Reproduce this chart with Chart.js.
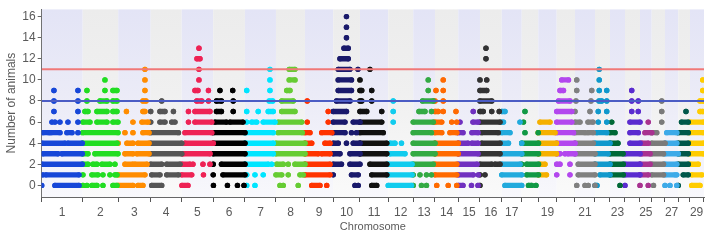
<!DOCTYPE html>
<html>
<head>
<meta charset="utf-8">
<script src="https://cdn.jsdelivr.net/npm/chart.js@4.4.1/dist/chart.umd.min.js"></script>
<style>
  html, body { margin: 0; padding: 0; background: #fff; }
  #wrap { width: 709px; height: 244px; }
</style>
</head>
<body>
<div id="wrap"><canvas id="chart" width="709" height="244"></canvas></div>
<script>
// chromosome lengths (Mb)
const chrLen = [164, 142, 130, 124, 126, 127, 124, 116, 113, 107, 113, 100, 87, 93, 87,
  87, 80, 66, 74, 73, 80, 60, 60, 60, 47, 53, 53, 47, 53];
const xTickLabels = ["1", "2", "3", "4", "5", "6", "7", "8", "9", "10", "11", "12", "13", "14", "15",
  "16", "17", "", "19", "", "21", "", "23", "", "25", "", "27", "", "29"];
const chrColors = ["#1747d8", "#22dd22", "#ff8c00", "#555555", "#ee2255", "#000000", "#00e5ff",
  "#66cc33", "#ff3300", "#1a1a6b", "#111111", "#11ccee", "#33aa44", "#ff6a00", "#7030c0",
  "#333333", "#22aadd", "#119944", "#f5b000", "#b347ee", "#808080", "#1199cc", "#006837",
  "#5b2ccf", "#a83290", "#7a7a7a", "#3daae8", "#00584a", "#ffcc00"];
const thresholds = [11, 8];
const thresholdColors = ["#f07878", "#4b5cc4"];
const yTicks = [0, 1, 2, 3, 4, 5, 6, 7, 8, 9, 10, 11, 12, 13, 14, 15, 16];

// [animals, start] for a single marker, [animals, start, end] for a run of markers (Mb)
const chr1 = [[0,0],[0,53,149],[1,5],[1,17,149],[2,1,162],[3,5,65],[3,81,162],[4,1,93],[4,105,162],
  [5,5,29],[5,37,73],[5,101,121],[5,145],[6,41],[6,53],[6,73],[6,105],[6,145],
  [7,49],[7,145],[8,49],[8,145],[9,49],[9,145]];
const chr2 = [[0,1],[0,17],[0,37,57],[0,81],[0,121,137],[1,1],[1,37,61],[1,81],[1,109],[1,129,137],
  [2,1,21],[2,41,57],[2,77,109],[2,129],[3,1,21],[3,49,141],[4,0,137],[5,0,141],
  [6,1,29],[6,57,97],[6,121,141],[7,9,21],[7,57,97],[7,121,137],[8,17],[8,69,97],[8,121,137],
  [9,17],[9,89],[9,121,137],[10,89]];
const chr3 = [[0,0,59],[0,79,99],[1,0,107],[2,27,59],[2,67,115],[3,27,59],[3,75,123],
  [4,0],[4,35,59],[4,79,123],[5,27],[5,59],[5,99,123],[6,59],[6,95,119],[7,33],[7,99,107],
  [8,99,111],[9,107],[10,107],[11,107]];
const chr4 = [[0,4,44],[1,4,37],[1,64,111],[2,0,44],[2,64,117],[3,0,124],[4,0,124],[5,0,111],
  [6,0],[6,37,57],[6,84,97],[7,0],[7,37,57],[7,91],[8,44]];
const chr5 = [[0,1,25],[1,0,40],[1,87],[2,1,33],[2,45],[2,85],[2,113],[3,5,113],[4,13,126],[5,13,120],
  [6,27],[6,53,120],[7,27],[7,53,113],[8,60,80],[8,107],[9,53,65],[9,107],
  [10,69],[11,69],[12,61,73],[13,69]];
const chr6 = [[0,1],[0,57],[0,97],[0,123],[1,0],[1,39,127],[2,0],[2,33,127],[3,0,127],[4,0,127],[5,0,127],
  [6,7,53],[6,67,119],[7,13,33],[7,80],[8,13,33],[8,80],[9,27],[9,78]];
const chr7 = [[0,7],[0,40],[1,7],[1,40],[1,73],[2,0,93],[2,107],[3,7,113],[4,0,113],[5,0,113],
  [6,7],[6,27,47],[6,73,120],[7,7],[7,53],[7,93,113],[8,97,111],[9,7],[9,100],[10,100],[11,100]];
const chr8 = [[0,16],[0,29],[0,89],[1,0,23],[1,49],[1,96,109],[2,3,29],[2,49],[2,76,116],
  [3,0,116],[4,0,116],[5,9,105],[6,9,103],[7,23,76],[8,23,69],[9,43,56],[10,53,76],[11,53,76]];
const chr9 = [[0,27,60],[0,87],[1,0,100],[2,0,100],[3,0,53],[3,67,100],[4,0,27],[4,80,100],
  [5,0,20],[5,67,107],[6,9],[6,93],[7,93],[8,9]];
const chr10 = [[0,87],[0,100],[1,0],[1,73,100],[2,0,33],[2,67,107],[3,0,27],[3,67,107],
  [4,0,20],[4,53],[4,80,107],[5,0,47],[5,73],[5,93],[6,0,47],[6,80,107],[7,0,53],[8,13,67],
  [9,20,73],[10,20,73],[11,20,67],[11,99],[12,27,60],[13,43,60],[14,53],[15,53],[16,53]];
const chr11 = [[0,47,67],[1,47,107],[2,40,107],[3,0,107],[4,0,107],[5,0,93],[6,0,87],[7,0,27],[7,87],
  [8,0,7],[8,47],[9,0,7],[9,47],[10,0],[11,40]];
const chr12 = [[0,0,93],[1,0,95],[2,0,95],[3,7,67],[4,7,27],[4,53],[6,20],[7,20],[8,20]];
const chr13 = [[0,0],[0,33],[0,53],[1,0],[1,27],[1,53],[1,73],[2,0,80],[3,0,87],[4,0,87],[5,0,73],
  [6,0,80],[7,23,47],[7,73],[8,37,80],[9,60],[10,60]];
const chr14 = [[0,7],[0,53],[0,87],[1,0,87],[2,0,87],[3,0,93],[4,0,93],[5,0,27],[5,60,87],
  [6,0,27],[6,67],[6,87],[7,0,13],[7,33],[7,84],[8,0],[8,33],[9,4],[9,33],[10,33]];
const chr15 = [[0,0,19],[0,53],[0,79],[1,0,60],[1,80],[2,0,75],[3,0,79],[4,0,39],[4,55,79],
  [5,0,19],[5,55,79],[6,7],[6,59,79],[7,60]];
const chr16 = [[0,0],[1,0],[1,20],[2,0,47],[2,60,80],[3,0,80],[4,7,80],[5,7,73],[6,0,80],
  [7,0,13],[7,47],[7,77],[8,0,47],[9,0,27],[10,0],[10,27],[12,24],[13,24]];
const chr17 = [[0,13,80],[1,0,80],[2,0,73],[3,0,80],[4,0,27],[4,80],[5,0,33],[6,0,7],[6,73],[7,0,13]];
const chr18 = [[0,27,40],[0,57],[1,20,67],[2,0],[2,20,67],[3,0,67],[4,0,67],[5,13],[5,66],[6,7],[7,13]];
const chr19 = [[1,0,33],[2,7,27],[3,0,73],[4,0,73],[5,0,67],[6,7,47]];
const chr20 = [[1,0],[1,53],[2,0,13],[2,53],[3,0,13],[3,33],[3,45,73],[4,0,73],[5,0,67],[6,0,60],
  [7,0,60],[8,7,53],[9,13,27],[10,20,47]];
const chr21 = [[0,7],[0,40],[0,53],[0,80],[1,13,80],[2,13,80],[3,0,80],[4,0,73],[5,0,40],[5,52,73],
  [6,0,20],[6,52,72],[7,0],[7,60],[8,4],[8,64],[9,7],[9,67],[10,7]];
const chr22 = [[0,0,8],[1,20,60],[2,0,60],[3,0,52],[4,0,60],[5,7,47],[6,13],[6,47],[7,13],[7,47],
  [8,16,27],[8,47],[9,17],[9,47],[10,17],[11,17]];
const chr23 = [[0,40],[1,0,53],[2,0,53],[3,0,52],[4,0,32],[5,0,20],[6,7]];
const chr24 = [[0,0],[1,0,60],[2,0,60],[3,0,60],[4,20,60],[5,20,53],[6,20,60],[7,27],[7,53],
  [8,27],[8,53],[9,27]];
const chr25 = [[0,0],[0,33],[1,0,33],[2,0,40],[3,7,40],[4,7,33],[5,20,47],[6,33]];
const chr26 = [[0,7],[1,0,47],[2,0,47],[3,0,47],[4,0,53],[5,0,20],[6,40],[7,40],[8,40]];
const chr27 = [[0,0],[0,20],[0,47],[1,0,40],[1,47],[2,0,47],[3,0,53],[4,0,47],[5,7,47]];
const chr28 = [[0,0],[1,20,40],[2,0,40],[3,0,40],[4,0,40],[5,0,40],[6,13,40],[7,31]];
const chr29 = [[0,7,40],[1,7,47],[2,0,33],[3,0,53],[4,0,53],[5,0,53],[6,0,53],[7,40,51],[8,40,53],
  [9,51],[10,51]];

const chromosomes = [chr1, chr2, chr3, chr4, chr5, chr6, chr7, chr8, chr9, chr10, chr11, chr12, chr13,
  chr14, chr15, chr16, chr17, chr18, chr19, chr20, chr21, chr22, chr23, chr24, chr25, chr26, chr27,
  chr28, chr29];

// cumulative start of each chromosome on the x axis
const chrStart = [];
let total = 0;
chrLen.forEach((len) => {
  chrStart.push(total);
  total += len;
});
const xMax = total + 3;

const FONT = "'Liberation Sans', Arial, sans-serif";
const TEXT = "#5a5a5a";

// Build one dataset per chromosome; runs become thick round-capped segments
const datasets = chromosomes.map((rows, i) => {
  const pts = [];
  rows.forEach((r) => {
    const x0 = chrStart[i] + r[1];
    pts.push({ x: x0, y: r[0] });
    if (r.length > 2) pts.push({ x: chrStart[i] + r[2], y: r[0] });
    pts.push({ x: x0, y: null });
  });
  return {
    data: pts,
    borderColor: chrColors[i],
    backgroundColor: chrColors[i],
    pointBackgroundColor: chrColors[i],
    borderWidth: 5.4,
    borderCapStyle: "round",
    borderJoinStyle: "round",
    pointRadius: 2.7,
    pointBorderWidth: 0,
    pointHoverRadius: 0,
    spanGaps: false,
    tension: 0,
    order: 2,
  };
});

thresholds.forEach((t, i) => {
  datasets.push({
    data: [{ x: 0, y: t }, { x: xMax, y: t }],
    borderColor: thresholdColors[i],
    borderWidth: i === 0 ? 2 : 1.8,
    pointRadius: 0,
    order: 1,
  });
});

// Alternating chromosome bands behind the markers
const bandPlugin = {
  id: "bands",
  beforeDatasetsDraw(chart) {
    const { ctx, chartArea, scales } = chart;
    ctx.save();
    ctx.beginPath();
    ctx.rect(chartArea.left, chartArea.top, chartArea.right - chartArea.left, chartArea.bottom - chartArea.top);
    ctx.clip();
    chrLen.forEach((len, i) => {
      const x1 = scales.x.getPixelForValue(chrStart[i]);
      const x2 = i === chrLen.length - 1 ? chartArea.right : scales.x.getPixelForValue(chrStart[i] + len);
      const g = ctx.createLinearGradient(0, chartArea.top, 0, chartArea.bottom);
      if (i % 2 === 0) {
        g.addColorStop(0, "#e3e4f6");
        g.addColorStop(0.45, "#ebebf7");
        g.addColorStop(1, "#f8f8fc");
      } else {
        g.addColorStop(0, "#ececec");
        g.addColorStop(0.45, "#f0f0f0");
        g.addColorStop(1, "#fafafa");
      }
      ctx.fillStyle = g;
      ctx.fillRect(x1, chartArea.top, x2 - x1, chartArea.bottom - chartArea.top);
    });
    ctx.restore();
  },
};

// tick values: chromosome boundaries (marks) and centres (labels)
const xTickValues = [];
chrLen.forEach((len, i) => {
  xTickValues.push({ value: chrStart[i], kind: "edge" });
  xTickValues.push({ value: chrStart[i] + len / 2, kind: "mid", label: xTickLabels[i] });
});
xTickValues.push({ value: total, kind: "edge" });

new Chart(document.getElementById("chart"), {
  type: "line",
  data: { datasets },
  options: {
    responsive: false,
    animation: false,
    devicePixelRatio: 1,
    layout: { padding: { top: 3, right: 5, left: 0, bottom: 0 } },
    plugins: { legend: { display: false }, tooltip: { enabled: false } },
    events: [],
    scales: {
      x: {
        type: "linear",
        min: 0,
        max: xMax,
        afterBuildTicks: (scale) => {
          scale.ticks = xTickValues.map((t) => ({ value: t.value }));
        },
        afterFit: (scale) => {
          scale.height = 47;
        },
        ticks: {
          autoSkip: false,
          maxRotation: 0,
          padding: 3,
          color: TEXT,
          font: { family: FONT, size: 12 },
          callback: (value, index) => (xTickValues[index].kind === "mid" ? xTickValues[index].label : ""),
        },
        grid: {
          drawOnChartArea: false,
          tickLength: 5,
          tickColor: (c) => (c.index !== undefined && xTickValues[c.index] && xTickValues[c.index].kind === "edge" ? "#555" : "rgba(0,0,0,0)"),
        },
        border: { display: true, color: "#666", width: 1 },
        title: {
          display: true,
          text: "Chromosome",
          color: TEXT,
          font: { family: "'Liberation Sans Narrow', " + FONT, size: 11 },
          padding: { top: 0, bottom: 10 },
        },
      },
      y: {
        type: "linear",
        min: -1.1,
        max: 16.7,
        afterBuildTicks: (scale) => {
          scale.ticks = yTicks.map((v) => ({ value: v }));
        },
        afterFit: (scale) => {
          scale.width = 41.7;
        },
        ticks: {
          padding: 2,
          color: TEXT,
          font: { family: FONT, size: 12 },
          callback: (value) => (value % 2 === 0 ? String(value) : ""),
        },
        grid: {
          drawOnChartArea: false,
          tickLength: 4,
          tickColor: "#666",
        },
        border: { display: true, color: "#666", width: 1 },
        title: {
          display: true,
          text: "Number of animals",
          color: TEXT,
          font: { family: FONT, size: 12 },
          padding: { top: 4, bottom: 0 },
        },
      },
    },
  },
  plugins: [bandPlugin],
});
</script>
</body>
</html>
